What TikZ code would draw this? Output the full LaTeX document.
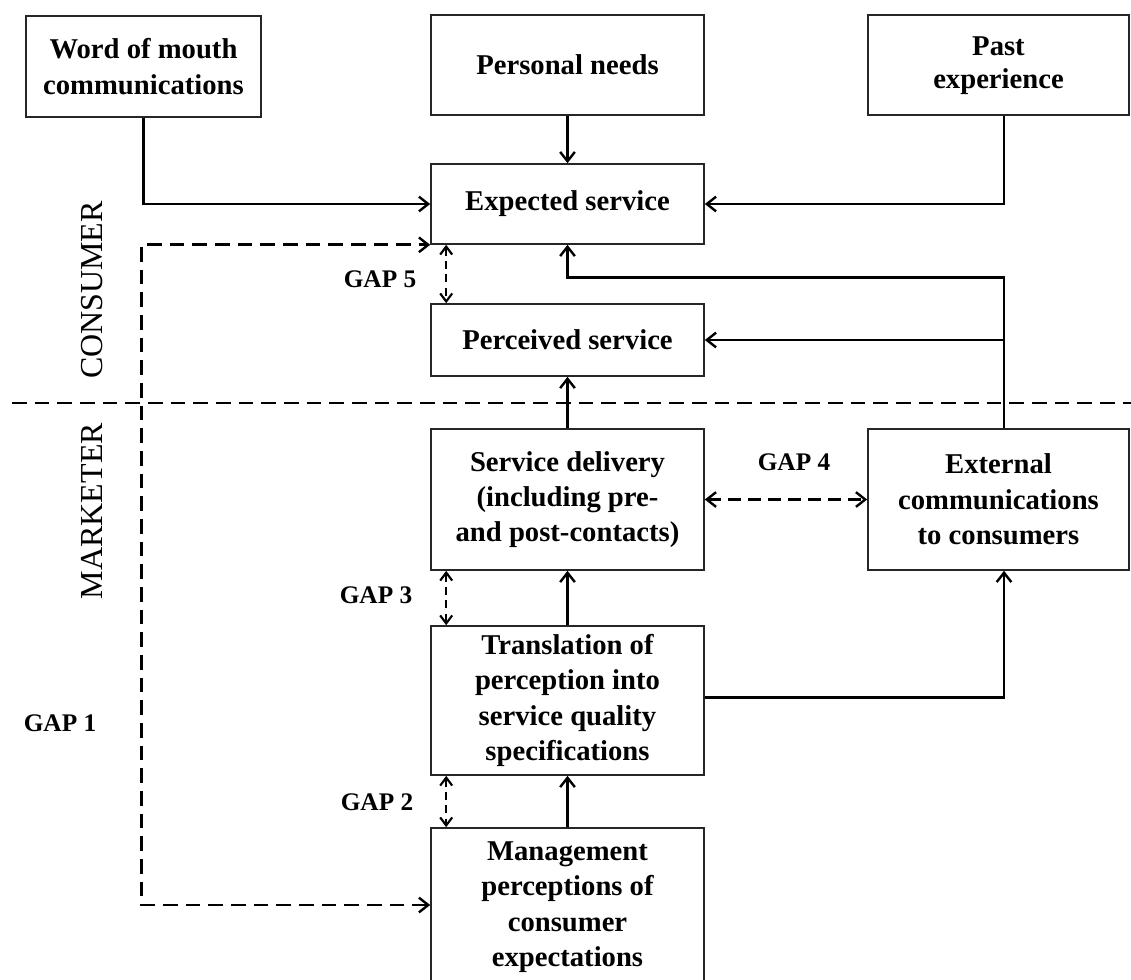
\documentclass[tikz,border=0pt]{standalone}
\usepackage{fontspec}
\setmainfont{Liberation Serif}
\usetikzlibrary{arrows.meta,calc}

\tikzset{
  box/.style={draw=black!85,line width=1.2pt,align=center,inner sep=0pt,
    font=\bfseries\fontsize{21.5}{26.5}\selectfont},
  sz/.style 2 args={minimum width=#1*0.75pt,minimum height=#2*0.75pt},
  link/.style={line width=2.2pt},
  flow/.style={link,-{Straight Barb[length=7pt,width=11pt,line width=1.8pt]}},
  bigdash/.style={line width=2.2pt,dash pattern=on 11pt off 6pt},
  both/.style={{Straight Barb[length=7pt,width=11pt,line width=1.8pt]}-{Straight Barb[length=7pt,width=11pt,line width=1.8pt]}},
  gapline/.style={line width=1.8pt,dash pattern=on 6pt off 4pt,
    {Straight Barb[length=6pt,width=9pt,line width=1.6pt]}-{Straight Barb[length=6pt,width=9pt,line width=1.6pt]}},
  gaplabel/.style={font=\bfseries\fontsize{19}{22}\selectfont,inner sep=0pt},
  side/.style={font=\fontsize{24}{28}\selectfont,rotate=90,inner sep=0pt}
}

\begin{document}
\begin{tikzpicture}[x=0.75pt,y=-0.75pt]
\path[use as bounding box] (0,0) rectangle (1131,979);
\clip (0,0) rectangle (1131,979);

% consumer side
\node[box,sz={235}{101}] (word)  at (143.5,66.5) {Word of mouth\\communications};
\node[box,sz={273}{100}] (needs) at (567.5,65)   {Personal needs};
\node[box,sz={261}{100}] (past)  at (998.5,65)   {\raisebox{3pt}{\begin{tabular}{@{}c@{}}Past\\[-1.5pt]experience\end{tabular}}};
\node[box,sz={273}{80}]  (exp)   at (567.5,204)  {Expected service};
\node[box,sz={273}{72}]  (perc)  at (567.5,340)  {Perceived service};

% marketer side
\node[box,sz={273}{141}] (deliv) at (567.5,499.5) {Service delivery\\(including pre-\\and post-contacts)};
\node[box,sz={261}{141}] (ext)   at (998.5,499.5) {External\\communications\\to consumers};
\node[box,sz={273}{149}] (trans) at (567.5,700.5) {Translation of\\perception into\\service quality\\specifications};
\node[box,sz={273}{158}] (mgmt)  at (567.5,907)   {Management\\perceptions of\\consumer\\expectations};

% column used by the right-hand connectors
\coordinate (col) at (1004,0);

% boundary between consumer and marketer
\coordinate (divL) at (12,403);
\coordinate (divR) at (1131,403);
\draw[bigdash] (divL) -- (divR);
\node[side] (consumer) at (92,290) {CONSUMER};
\node[side] (marketer) at (92,511) {MARKETER};

% solid connectors
\draw[flow] (word.south) |- (exp.west);
\draw[flow] (needs.south) -- (exp.north);
\draw[flow] (col |- past.south) |- (exp.east);
\draw[flow] (col |- ext.north) -- ++(0,-151) -| (exp.south);
\draw[flow] (col |- perc.east) -- (perc.east);
\draw[flow] (deliv.north) -- (perc.south);
\draw[flow] (trans.north) -- (deliv.south);
\draw[flow] (mgmt.north) -- (trans.south);
\draw[flow] ([yshift=2.25pt]trans.east) -| (col |- ext.south);

% gaps
\draw[bigdash,both] ([yshift=1.5pt]mgmt.west) -- ++(-289,0) |- (exp.south west);
\draw[gapline] ([xshift=12pt]exp.south west) -- ([xshift=12pt]perc.north west);
\draw[gapline] ([xshift=12pt]deliv.south west) -- ([xshift=12pt]trans.north west);
\draw[gapline] ([xshift=12pt]trans.south west) -- ([xshift=12pt]mgmt.north west);
\draw[line width=2.2pt,dash pattern=on 9.5pt off 5.5pt,both] (deliv.east) -- (ext.west);

\node[gaplabel] (gap1) at (60,723)  {GAP 1};
\node[gaplabel] (gap2) at (377,802) {GAP 2};
\node[gaplabel] (gap3) at (376,595) {GAP 3};
\node[gaplabel] (gap4) at (794,462) {GAP 4};
\node[gaplabel] (gap5) at (380,279) {GAP 5};
\end{tikzpicture}
\end{document}
